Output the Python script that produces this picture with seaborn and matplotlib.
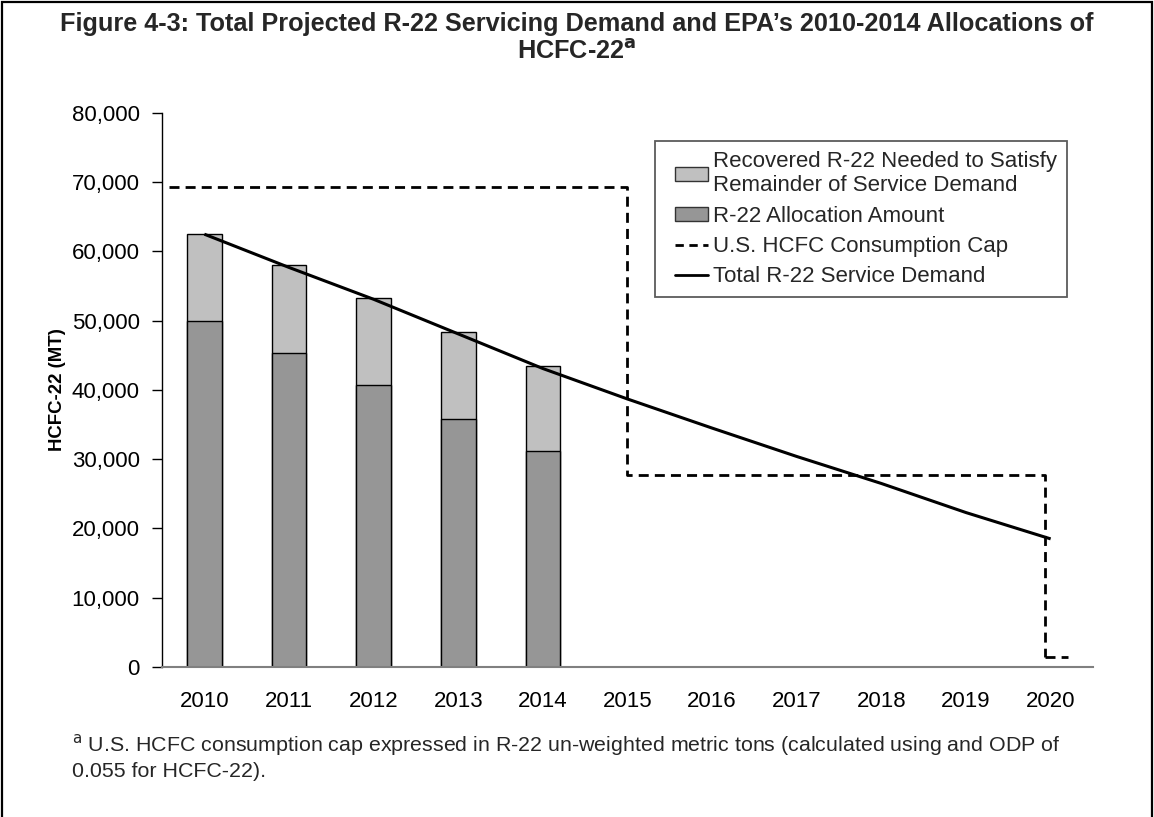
import matplotlib
matplotlib.use("Agg")
import matplotlib.pyplot as plt
import seaborn as sns
import pandas as pd
from matplotlib.patches import Patch, Rectangle
from matplotlib.lines import Line2D
from matplotlib.ticker import FuncFormatter
from matplotlib.legend_handler import HandlerPatch, HandlerLine2D

years = [2010, 2011, 2012, 2013, 2014, 2015, 2016, 2017, 2018, 2019, 2020]
bar_years = [2010, 2011, 2012, 2013, 2014]
allocation = [50000, 45400, 40700, 35800, 31200]
bar_totals = [62500, 58000, 53300, 48400, 43500]
demand = [62500, 57700, 53100, 48100, 43100, 38700, 34500, 30400, 26500, 22300, 18500]
cap_years = [2010, 2015, 2020]
cap_values = [69273, 27709, 1385]

sns.set_theme(style="white")
plt.rcParams['font.family'] = ['Liberation Sans', 'DejaVu Sans']

FS = 16

fig = plt.figure(figsize=(11.54, 8.17), dpi=100)
ax = fig.add_axes([0.1404, 0.1836, 0.8067, 0.6781])

df = pd.DataFrame({"year": bar_years, "total": bar_totals, "alloc": allocation})
order = [str(y) for y in years]
df["yl"] = df["year"].astype(str)
sns.barplot(data=df, x="yl", y="total", order=order, color="#C0C0C0",
            edgecolor="black", linewidth=1, width=0.41, saturation=1, ax=ax)
sns.barplot(data=df, x="yl", y="alloc", order=order, color="#969696",
            edgecolor="black", linewidth=1, width=0.41, saturation=1, ax=ax)

pos = {y: i for i, y in enumerate(years)}
dx = [pos[y] for y in years]
ax.plot(dx, demand, color="black", lw=2.2, solid_capstyle="butt")

# step cap line
dash = (0, (3.6, 2.2))
cx = [pos[cap_years[0]] - 0.42, pos[cap_years[1]], pos[cap_years[1]], pos[cap_years[2]] - 0.07,
      pos[cap_years[2]] - 0.07]
cy = [cap_values[0], cap_values[0], cap_values[1], cap_values[1], cap_values[2]]
ax.plot(cx, cy, color="black", lw=2.0, ls=dash)
ax.plot([pos[cap_years[2]] - 0.07, pos[cap_years[2]] + 0.2], [cap_values[2], cap_values[2]],
        color="black", lw=2.0, ls=dash)

ax.set_xlim(-0.5, 10.5)
ax.set_ylim(0, 80000)
ax.set_yticks(range(0, 80001, 10000))
ax.yaxis.set_major_formatter(FuncFormatter(lambda v, p: f"{int(v):,}"))
ax.tick_params(axis="y", left=True, length=7, width=1, color="black", labelsize=FS, pad=9)
ax.tick_params(axis="x", bottom=False, labelsize=FS, pad=11.5)
for lab in ax.get_xticklabels() + ax.get_yticklabels():
    lab.set_color("black")
ax.set_xlabel("")
ax.set_ylabel("HCFC-22 (MT)", fontsize=13.4, fontweight="bold", color="black",
              va="center", ha="center")
ax.yaxis.set_label_coords(-0.1128, 0.5)
for s in ["top", "right"]:
    ax.spines[s].set_visible(False)
ax.spines["left"].set_color("black")
ax.spines["left"].set_linewidth(1)
ax.spines["bottom"].set_color("#808080")
ax.spines["bottom"].set_linewidth(1.5)

h_rec = Patch(facecolor="#C0C0C0", edgecolor="#333333", linewidth=1)
h_all = Patch(facecolor="#969696", edgecolor="#333333", linewidth=1)
h_cap = Line2D([0], [0], color="black", lw=2, ls=(0, (3, 2)))
h_dem = Line2D([0], [0], color="black", lw=2)
handles = [h_rec, h_all, h_cap, h_dem]
labels = ["Recovered R-22 Needed to Satisfy\nRemainder of Service Demand",
          "R-22 Allocation Amount", "U.S. HCFC Consumption Cap", "Total R-22 Service Demand"]
hmap = {Patch: HandlerPatch(xpad=0.45), Line2D: HandlerLine2D(xpad=0.45)}
leg = ax.legend(handles, labels, loc="upper left", bbox_to_anchor=(0.53, 0.949),
                fontsize=FS, frameon=True, fancybox=False, shadow=False,
                edgecolor="#333333", handlelength=1.9, handleheight=0.65, handletextpad=0.22,
                labelspacing=0.42, borderpad=0.45, borderaxespad=0, handler_map=hmap)
leg.get_frame().set_linewidth(1.3)

fig.text(0.5, 0.971, "Figure 4-3: Total Projected R-22 Servicing Demand and EPA\u2019s 2010-2014 Allocations of",
         ha="center", va="center", fontsize=18.2, fontweight="bold")
fig.text(0.5, 0.937, "HCFC-22$^{\\mathbf{a}}$", ha="center", va="center", fontsize=18.2, fontweight="bold")

fig.text(0.0624, 0.074, "$^{\\mathrm{a}}$ U.S. HCFC consumption cap expressed in R-22 un-weighted metric tons (calculated using and ODP of\n0.055 for HCFC-22).",
         ha="left", va="center", fontsize=15.4, linespacing=1.3)

fig.patches.append(Rectangle((0.0017, -0.01), 0.9965, 1.0073, transform=fig.transFigure,
                             fill=False, edgecolor="black", linewidth=1.6))

fig.savefig("out.png", dpi=100)
